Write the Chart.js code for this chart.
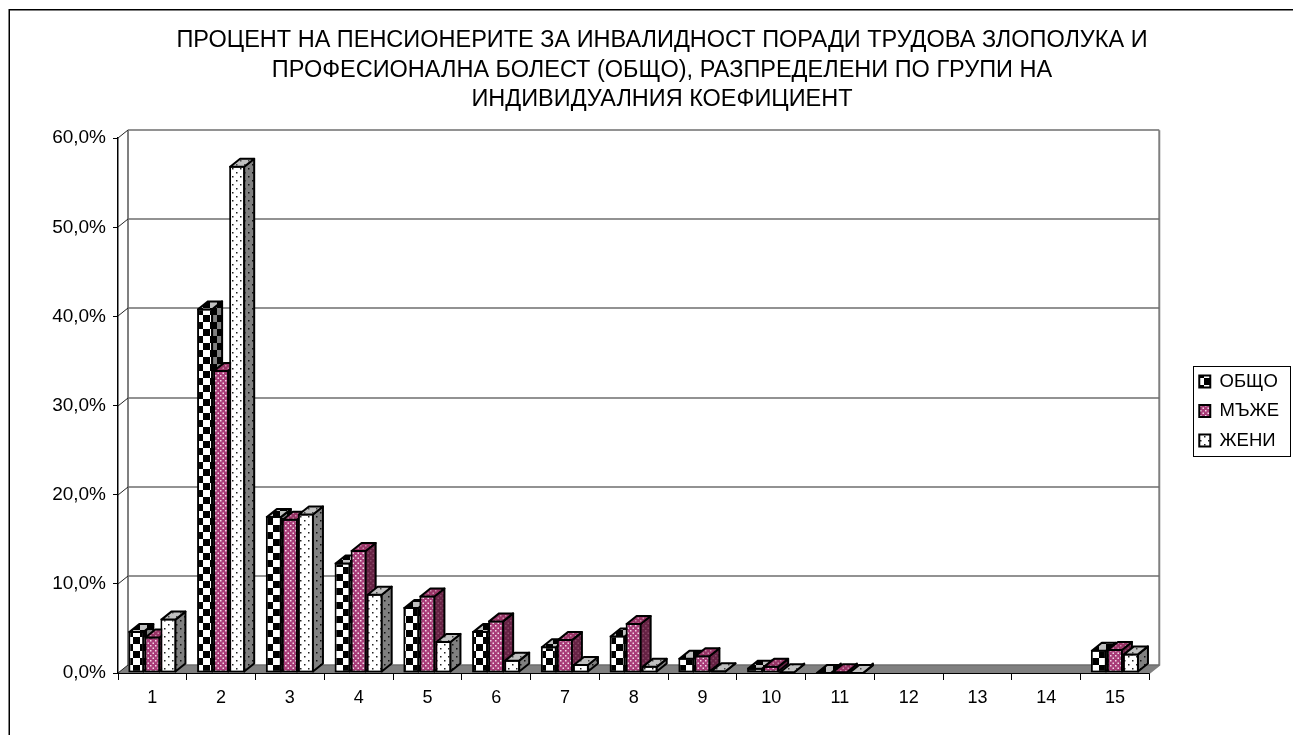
<!DOCTYPE html>
<html><head><meta charset="utf-8">
<style>html,body{margin:0;padding:0;background:#fff;overflow:hidden}canvas{display:block}</style>
<script src="https://cdn.jsdelivr.net/npm/chart.js@4/dist/chart.umd.min.js"></script>
</head><body>
<div style="width:1293px;height:735px"><canvas id="c" width="1293" height="735"></canvas></div>
<script>
const categories = ['1','2','3','4','5','6','7','8','9','10','11','12','13','14','15'];
const obshto = [4.7,40.9,17.6,12.4,7.4,4.7,3.0,4.2,1.7,0.6,0.1,0,0,0,2.6];
const mazhe  = [4.1,34.0,17.3,13.8,8.7,5.9,3.8,5.6,2.0,0.8,0.2,0,0,0,2.7];
const zheni  = [6.1,56.9,17.9,8.9,3.6,1.5,1.0,0.8,0.3,0.2,0.1,0,0,0,2.2];
const seriesNames = ['ОБЩО','МЪЖЕ','ЖЕНИ'];
const titleLines = ['ПРОЦЕНТ НА ПЕНСИОНЕРИТЕ ЗА ИНВАЛИДНОСТ ПОРАДИ ТРУДОВА ЗЛОПОЛУКА И','ПРОФЕСИОНАЛНА БОЛЕСТ (ОБЩО), РАЗПРЕДЕЛЕНИ ПО ГРУПИ НА','ИНДИВИДУАЛНИЯ КОЕФИЦИЕНТ'];
const DX = 10, DY = 8;
const FONT = '"Liberation Sans", Arial, sans-serif';

function tile(w, h, draw){
  const c = document.createElement('canvas'); c.width = w; c.height = h;
  draw(c.getContext('2d'));
  return document.createElement('canvas').getContext('2d').createPattern(c, 'repeat');
}
function checker(bg, fg){
  return tile(14, 14, g => { g.fillStyle = bg; g.fillRect(0,0,14,14); g.fillStyle = fg; g.fillRect(0,0,7,7); g.fillRect(7,7,7,7); });
}
function dots(bg, fg, size, step){
  return tile(step, step, g => { g.fillStyle = bg; g.fillRect(0,0,step,step); g.fillStyle = fg;
    g.fillRect(0,0,size,size); g.fillRect(step/2,step/2,size,size); });
}
const faces = [
  {front: checker('#ffffff','#000000'), side: checker('#808080','#000000'), top: checker('#c0c0c0','#000000')},
  {front: dots('#a83c78','#f4dcea',1.5,5), side: dots('#662244','#8a4a68',1.5,5), top: dots('#993366','#c890ac',1.5,5)},
  {front: dots('#ffffff','#222222',1.5,8), side: dots('#808080','#111111',1.5,8), top: dots('#c0c0c0','#444444',1.5,8)}
];
function drawDepth(ctx, meta, face){
  ctx.save(); ctx.lineWidth = 2; ctx.strokeStyle = '#000'; ctx.lineJoin = 'round';
  meta.data.forEach((b, i) => {
    if (!meta._parsed[i].y) return;
    const l = b.x - b.width/2, r = b.x + b.width/2, t = b.y, bt = b.base;
    ctx.beginPath(); ctx.moveTo(r-1,t+1); ctx.lineTo(r-1+DX,t+1-DY); ctx.lineTo(r-1+DX,bt-1-DY); ctx.lineTo(r-1,bt-1); ctx.closePath();
    ctx.fillStyle = face.side; ctx.fill(); ctx.stroke();
    ctx.beginPath(); ctx.moveTo(l+1,t+1); ctx.lineTo(l+1+DX,t+1-DY); ctx.lineTo(r-1+DX,t+1-DY); ctx.lineTo(r-1,t+1); ctx.closePath();
    ctx.fillStyle = face.top; ctx.fill(); ctx.stroke();
  });
  ctx.restore();
}
const scene = {
  id: 'scene',
  afterLayout(chart){
    const lg = chart.legend; lg.top = 266; lg.bottom = 556; lg.left -= 2;
  },
  beforeDatasetsDraw(chart){
    const {ctx, scales:{x, y}} = chart, L = x.left, R = x.right, B = y.bottom;
    ctx.save();
    ctx.fillStyle = '#808080';
    ctx.beginPath(); ctx.moveTo(L,B); ctx.lineTo(L+DX,B-DY); ctx.lineTo(R+DX,B-DY); ctx.lineTo(R,B); ctx.closePath(); ctx.fill();
    ctx.strokeStyle = '#808080'; ctx.lineWidth = 2;
    ctx.beginPath(); ctx.moveTo(L+DX,y.top-DY); ctx.lineTo(L+DX,B-DY); ctx.moveTo(R+DX,y.top-DY); ctx.lineTo(R+DX,B-DY); ctx.lineTo(R,B); ctx.stroke();
    y.ticks.forEach(t => {
      const py = Math.round(y.getPixelForValue(t.value));
      ctx.strokeStyle = '#6e6e6e'; ctx.lineWidth = 1.5;
      ctx.beginPath(); ctx.moveTo(L+DX,py-DY); ctx.lineTo(R+DX,py-DY); ctx.stroke();
      ctx.strokeStyle = '#222'; ctx.lineWidth = 1;
      ctx.beginPath(); ctx.moveTo(L,py); ctx.lineTo(L+DX,py-DY); ctx.stroke();
    });
    ctx.restore();
  },
  beforeDatasetDraw(){ return false; },
  afterDatasetsDraw(chart){
    chart.getSortedVisibleDatasetMetas().forEach(meta => {
      meta.controller.draw();
      drawDepth(chart.ctx, meta, faces[meta.index]);
    });
  },
  afterDraw(chart){
    const {ctx} = chart;
    ctx.save();
    ctx.strokeStyle = '#000'; ctx.lineWidth = 1.5;
    ctx.strokeRect(9.25, 9.75, 1400, 800);
    ctx.lineWidth = 1; ctx.strokeRect(1193.5, 366.5, 97, 90);
    ctx.restore();
  }
};
new Chart(document.getElementById('c'), {
  type: 'bar',
  data: { labels: categories, datasets: [obshto, mazhe, zheni].map((d,i) => ({
    label: seriesNames[i], data: d, backgroundColor: faces[i].front, borderColor: '#000', borderWidth: 2,
    borderSkipped: false, inflateAmount: 0, barPercentage: 1, categoryPercentage: 0.70
  }))},
  options: {
    responsive: false, animation: false, devicePixelRatio: 1,
    layout: { padding: { left: 33, right: 2, top: 0, bottom: 0 } },
    plugins: {
      tooltip: { enabled: false },
      title: { display: true, text: titleLines, color: '#000', padding: { top: 26, bottom: 24 },
        font: { family: FONT, size: 23.5, weight: 'normal', lineHeight: 1.25 } },
      legend: { position: 'right', onClick: null,
        labels: { color: '#000', boxWidth: 11, boxHeight: 12, padding: 11, font: { family: FONT, size: 18.5 } } }
    },
    scales: {
      x: { grid: { drawOnChartArea: false, tickLength: 7, tickColor: '#000', offset: true },
        border: { color: '#000', width: 2 },
        ticks: { color: '#000', maxRotation: 0, padding: 7, font: { family: FONT, size: 18 } },
        afterFit(s){ s.height = 62; } },
      y: { min: 0, max: 60, grid: { drawOnChartArea: false, tickLength: 5, tickColor: '#000' },
        border: { color: '#000', width: 1.5 },
        ticks: { stepSize: 10, color: '#000', padding: 7, font: { family: FONT, size: 19 },
          callback: v => v.toFixed(1).replace('.', ',') + '%' },
        afterFit(s){ s.width = 85; } },
      pad: { type: 'linear', position: 'right', display: true, grid: { display: false }, border: { display: false },
        ticks: { display: false }, afterFit(s){ s.width = 41; } }
    }
  },
  plugins: [scene]
});
</script>
</body></html>
